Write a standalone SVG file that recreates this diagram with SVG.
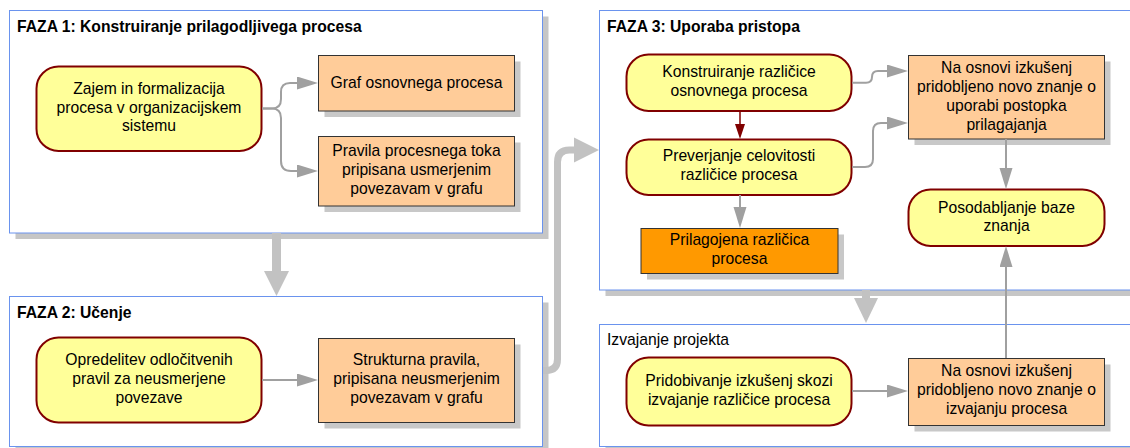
<svg xmlns="http://www.w3.org/2000/svg" width="1130" height="448" viewBox="0 0 1130 448">
  <style>
    .frame { fill: #ffffff; stroke: #6a93ee; stroke-width: 1; }
    .fshadow { fill: #c6c6c6; }
    .step { fill: #ffff99; stroke: #800000; stroke-width: 2; }
    .box { fill: #ffcc99; stroke: #333333; stroke-width: 1; }
    .result { fill: #ff9900; stroke: #333333; stroke-width: 1; }
    .bshadow { fill: #c8c8c8; }
    text { font-family: "Liberation Sans", Arial, sans-serif; font-size: 15.7px; fill: #000000; }
    .c { text-anchor: middle; }
    .title { font-weight: bold; }
    .conn { fill: none; stroke: #a0a0a0; stroke-width: 2; marker-end: url(#headGray); }
    .connRed { fill: none; stroke: #800000; stroke-width: 1.5; marker-end: url(#headRed); }
    .flow { fill: none; stroke: #c2c2c2; }
    .flowHead { fill: #c2c2c2; }
  </style>
  <defs>
    <marker id="headGray" markerUnits="userSpaceOnUse" markerWidth="22" markerHeight="14" refX="1" refY="6.5" orient="auto">
      <path d="M0,0 L21,6.5 L0,13 z" fill="#a0a0a0"/>
    </marker>
    <marker id="headRed" markerUnits="userSpaceOnUse" markerWidth="16" markerHeight="11" refX="1" refY="5" orient="auto">
      <path d="M0,0 L15,5 L0,10 z" fill="#800000"/>
    </marker>
  </defs>

  <!-- phase frames -->
  <g id="faza1">
    <rect class="fshadow" x="15.5" y="16.5" width="533" height="222.5"/>
    <rect class="frame" x="9.5" y="10.5" width="533" height="222.5"/>
    <text class="title" x="17" y="32">FAZA 1: Konstruiranje prilagodljivega procesa</text>
  </g>
  <g id="faza2">
    <rect class="fshadow" x="15.5" y="302.5" width="533" height="150"/>
    <rect class="frame" x="9.5" y="296.5" width="533" height="150"/>
    <text class="title" x="17" y="318">FAZA 2: Učenje</text>
  </g>
  <g id="faza3">
    <rect class="fshadow" x="605.5" y="16.5" width="540" height="279.5"/>
    <rect class="frame" x="599.5" y="10.5" width="540" height="279.5"/>
    <text class="title" x="607" y="32">FAZA 3: Uporaba pristopa</text>
  </g>
  <g id="izvajanje">
    <rect class="fshadow" x="605.5" y="330.5" width="540" height="122"/>
    <rect class="frame" x="599.5" y="324.5" width="540" height="122"/>
    <text x="607" y="345">Izvajanje projekta</text>
  </g>

  <!-- flow between phases -->
  <g id="phase-flow">
    <path class="flow" stroke-width="9" d="M276.5,233 V272"/>
    <polygon class="flowHead" points="264,271 289,271 276.5,296"/>
    <path class="flow" stroke-width="7" d="M543,370.5 H546 Q557.5,370.5 557.5,359 V162 Q557.5,150 569.5,150 H575"/>
    <polygon class="flowHead" points="574,137.5 599,150 574,162.5"/>
    <path class="flow" stroke-width="8" d="M866,290 V299"/>
    <polygon class="flowHead" points="854,298 878,298 866,323"/>
  </g>

  <!-- FAZA 1 nodes -->
  <g id="zajem">
    <rect class="step" x="36.5" y="66.5" width="225" height="84.5" rx="22"/>
    <text class="c" x="149" y="94">Zajem in formalizacija</text>
    <text class="c" x="149" y="112.5">procesa v organizacijskem</text>
    <text class="c" x="149" y="131">sistemu</text>
  </g>
  <g id="graf">
    <rect class="bshadow" x="324.5" y="61.5" width="196" height="55.5"/>
    <rect class="box" x="318.5" y="55.5" width="196" height="55.5"/>
    <text class="c" x="416.5" y="88">Graf osnovnega procesa</text>
  </g>
  <g id="pravila">
    <rect class="bshadow" x="324.5" y="142.5" width="196" height="69.5"/>
    <rect class="box" x="318.5" y="136.5" width="196" height="69.5"/>
    <text class="c" x="416.5" y="156">Pravila procesnega toka</text>
    <text class="c" x="416.5" y="175">pripisana usmerjenim</text>
    <text class="c" x="416.5" y="194">povezavam v grafu</text>
  </g>

  <!-- FAZA 2 nodes -->
  <g id="opredelitev">
    <rect class="step" x="36.5" y="337.5" width="225" height="85" rx="22"/>
    <text class="c" x="149" y="365">Opredelitev odločitvenih</text>
    <text class="c" x="149" y="384">pravil za neusmerjene</text>
    <text class="c" x="149" y="403">povezave</text>
  </g>
  <g id="strukturna">
    <rect class="bshadow" x="324.5" y="344.5" width="196" height="84"/>
    <rect class="box" x="318.5" y="338.5" width="196" height="84"/>
    <text class="c" x="416.5" y="365">Strukturna pravila,</text>
    <text class="c" x="416.5" y="384">pripisana neusmerjenim</text>
    <text class="c" x="416.5" y="403">povezavam v grafu</text>
  </g>

  <!-- FAZA 3 nodes -->
  <g id="konstruiranje">
    <rect class="step" x="626.5" y="54.5" width="225" height="56.5" rx="22"/>
    <text class="c" x="739" y="77">Konstruiranje različice</text>
    <text class="c" x="739" y="96">osnovnega procesa</text>
  </g>
  <g id="preverjanje">
    <rect class="step" x="626.5" y="139.5" width="225" height="55.5" rx="22"/>
    <text class="c" x="739" y="161">Preverjanje celovitosti</text>
    <text class="c" x="739" y="180">različice procesa</text>
  </g>
  <g id="prilagojena">
    <rect class="bshadow" x="647" y="234.5" width="197" height="45"/>
    <rect class="result" x="641" y="228.5" width="197" height="45"/>
    <text class="c" x="739.5" y="245">Prilagojena različica</text>
    <text class="c" x="739.5" y="264">procesa</text>
  </g>
  <g id="znanje-uporaba">
    <rect class="bshadow" x="914.5" y="61.5" width="196" height="83.5"/>
    <rect class="box" x="908.5" y="55.5" width="196" height="83.5"/>
    <text class="c" x="1006.5" y="73">Na osnovi izkušenj</text>
    <text class="c" x="1006.5" y="92">pridobljeno novo znanje o</text>
    <text class="c" x="1006.5" y="111">uporabi postopka</text>
    <text class="c" x="1006.5" y="129.5">prilagajanja</text>
  </g>
  <g id="posodabljanje">
    <rect class="step" x="908.5" y="189.5" width="196" height="56.5" rx="22"/>
    <text class="c" x="1006.5" y="212.5">Posodabljanje baze</text>
    <text class="c" x="1006.5" y="231">znanja</text>
  </g>

  <!-- project execution nodes -->
  <g id="pridobivanje">
    <rect class="step" x="626.5" y="357.5" width="225" height="68" rx="22"/>
    <text class="c" x="739" y="386">Pridobivanje izkušenj skozi</text>
    <text class="c" x="739" y="405">izvajanje različice procesa</text>
  </g>
  <g id="znanje-izvajanje">
    <rect class="bshadow" x="914.5" y="364.5" width="196" height="67"/>
    <rect class="box" x="908.5" y="358.5" width="196" height="67"/>
    <text class="c" x="1006.5" y="376">Na osnovi izkušenj</text>
    <text class="c" x="1006.5" y="395">pridobljeno novo znanje o</text>
    <text class="c" x="1006.5" y="413.5">izvajanju procesa</text>
  </g>

  <!-- connectors -->
  <g id="connectors">
    <path class="conn" d="M262,108.5 H272 Q281,108.5 281,99 V92 Q281,83 290,83 H298"/>
    <path class="conn" d="M262,108.5 H272 Q281,108.5 281,118 V161 Q281,171 291,171 H298"/>
    <path class="conn" d="M262,380 H298"/>
    <path class="conn" d="M852,82.7 H866 Q872,82.7 872,77 Q872,71 878,71 H888"/>
    <path class="conn" d="M852,167 H865 Q873,167 873,159 V131 Q873,123 881,123 H888"/>
    <path class="connRed" d="M740,111 V125"/>
    <path class="conn" d="M740,195 V208"/>
    <path class="conn" d="M1006,139 V169"/>
    <path class="conn" d="M1006,358 V266"/>
    <path class="conn" d="M852,391 H888"/>
  </g>
</svg>
